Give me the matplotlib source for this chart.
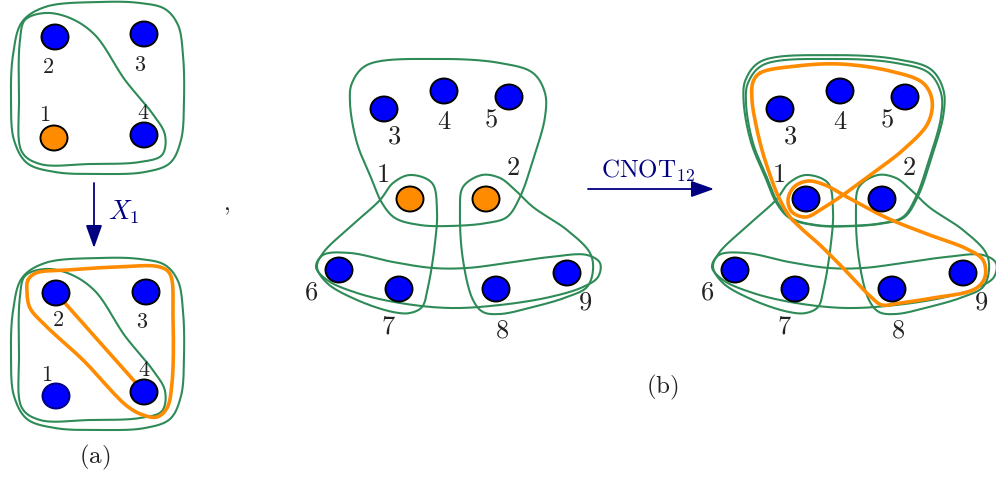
import numpy as np
import matplotlib
matplotlib.use("Agg")
import matplotlib.pyplot as plt
from matplotlib.patches import Ellipse

plt.rcParams['mathtext.fontset'] = 'cm'

GREEN = '#2e8b57'
ORANGE = '#ff8c00'
BLUE = '#0000ff'
NAVY = '#000080'

# ---------------- panel (a): four-qubit code, before and after X_1 -------------
a_ids = ['1', '2', '3', '4']
a_top_xy = [(54, 138), (55, 37), (144, 34), (144, 135)]
a_top_fill = [ORANGE, BLUE, BLUE, BLUE]
a_top_lbl = [(45, 115), (48, 67), (140, 65), (143, 113)]

a_bot_xy = [(56, 396), (56, 293), (146, 292), (144, 392)]
a_bot_fill = [BLUE, BLUE, BLUE, BLUE]
a_bot_edge = [NAVY, 'black', 'black', 'black']
a_bot_lbl = [(47, 375), (58, 320), (142, 322), (144, 370)]

# hyperedges of panel (a) (closed outlines, top copy; lower copy is shifted)
a_outer = [(100, 2), (140, 3), (165, 9), (178, 25), (183, 55), (184, 100),
           (181, 140), (170, 163), (145, 172), (100, 174), (55, 172),
           (27, 163), (14, 140), (11, 100), (13, 55), (22, 22), (45, 7)]
a_inner = [(20, 40), (25, 20), (45, 13), (70, 18), (95, 35), (125, 80),
           (152, 113), (165, 135), (162, 155), (140, 162), (90, 164),
           (40, 164), (22, 152), (19, 100)]
a_shift = 256

# logical operator after X_1
a_logical = [(28, 280), (36, 273), (67, 270), (117, 267), (160, 267), (170, 274),
             (173, 317), (172, 383), (167, 408), (157, 417), (143, 415),
             (127, 406), (83, 360), (47, 327), (30, 308), (27, 292)]
a_logical_edge = ('2', '4')

# ---------------- panel (b): nine-qubit hypergraph, before and after CNOT_12 ------
b_ids = ['1', '2', '3', '4', '5', '6', '7', '8', '9']
b_xy = [(410, 199), (486, 199), (384, 109), (444, 91), (509, 97),
        (339, 270), (399, 289), (496, 289), (567, 273)]
b_fill_before = [ORANGE, ORANGE] + [BLUE] * 7
b_fill_after = [BLUE] * 9
b_lbl = [(383, 175), (513, 168), (394, 137), (444, 122), (491, 119),
         (311, 292), (388, 327), (502, 330), (585, 303)]
b_shift = 396

bell = [(440, 59), (500, 63), (533, 73), (545, 93), (545, 117), (533, 160),
        (520, 197), (507, 217), (487, 223), (450, 226), (420, 225), (395, 218),
        (382, 203), (372, 180), (357, 143), (350, 103), (352, 83), (367, 65)]
edge_167 = [(410, 175), (432, 183), (437, 210), (435, 243), (428, 287),
            (422, 307), (410, 313), (393, 312), (357, 300), (327, 283),
            (317, 267), (323, 253), (350, 227), (380, 200), (393, 183)]
edge_289 = [(482, 175), (500, 178), (513, 188), (533, 207), (567, 230),
            (590, 253), (593, 270), (587, 287), (567, 297), (533, 307),
            (500, 314), (483, 312), (473, 300), (463, 260), (460, 213),
            (463, 187)]
edge_6789 = [(316, 267), (323, 255), (350, 253), (393, 262), (433, 268),
             (467, 268), (507, 263), (550, 257), (587, 255), (600, 263),
             (598, 277), (583, 287), (550, 297), (500, 305), (450, 308),
             (400, 303), (357, 293), (327, 280)]

# logical operator after CNOT_12 (absolute positions in the right copy)
b_logical = [(760, 73), (797, 66), (840, 64), (890, 71), (923, 83), (932, 100),
             (928, 123), (903, 150), (873, 173), (843, 195), (823, 208),
             (806, 217), (792, 212), (788, 200), (794, 187), (808, 181),
             (825, 185), (847, 197), (887, 218), (927, 234), (967, 249),
             (983, 260), (985, 277), (975, 289), (933, 298), (900, 303),
             (882, 305), (872, 298), (847, 272), (820, 245), (803, 230),
             (790, 217), (779, 198), (770, 175), (762, 150), (756, 125),
             (752, 100), (753, 82)]


def closed_spline(pts, n=24, alpha=0.5):
    """Centripetal Catmull-Rom spline through a closed list of points."""
    P = np.asarray(pts, float)
    m = len(P)
    out = []
    for i in range(m):
        p0, p1, p2, p3 = P[(i - 1) % m], P[i], P[(i + 1) % m], P[(i + 2) % m]
        t0 = 0.0
        t1 = t0 + np.linalg.norm(p1 - p0) ** alpha
        t2 = t1 + np.linalg.norm(p2 - p1) ** alpha
        t3 = t2 + np.linalg.norm(p3 - p2) ** alpha
        t = np.linspace(t1, t2, n, endpoint=False)[:, None]
        A1 = (t1 - t) / (t1 - t0) * p0 + (t - t0) / (t1 - t0) * p1
        A2 = (t2 - t) / (t2 - t1) * p1 + (t - t1) / (t2 - t1) * p2
        A3 = (t3 - t) / (t3 - t2) * p2 + (t - t2) / (t3 - t2) * p3
        B1 = (t2 - t) / (t2 - t0) * A1 + (t - t0) / (t2 - t0) * A2
        B2 = (t3 - t) / (t3 - t1) * A2 + (t - t1) / (t3 - t1) * A3
        C = (t2 - t) / (t2 - t1) * B1 + (t - t1) / (t2 - t1) * B2
        out.append(C)
    out = np.vstack(out)
    return np.vstack([out, out[:1]])


def draw_loop(ax, pts, dx=0, dy=0, color=GREEN, lw=1.5, z=2):
    c = closed_spline(pts)
    ax.plot(c[:, 0] + dx, c[:, 1] + dy, color=color, lw=lw, zorder=z,
            solid_capstyle='round', solid_joinstyle='round')


def draw_nodes(ax, xy, fills, edges=None, w=27, h=25):
    for k, (x, y) in enumerate(xy):
        ec = 'black' if edges is None else edges[k]
        ax.add_patch(Ellipse((x, y), w, h, facecolor=fills[k], edgecolor=ec,
                             lw=1.4, zorder=5))


def draw_labels(ax, ids, pos, size, dx=0):
    for s, (x, y) in zip(ids, pos):
        ax.text(x + dx, y, f'${s}$', fontsize=size, ha='center', va='center',
                color='#222222', zorder=6)


def scaled(pts, cx, cy, f):
    return [(cx + (x - cx) * f, cy + (y - cy) * f) for x, y in pts]


fig = plt.figure(figsize=(9.96, 4.78), dpi=100)
ax = fig.add_axes([0, 0, 1, 1])
ax.set_xlim(0, 996)
ax.set_ylim(478, 0)
ax.set_aspect('equal')
ax.axis('off')

# panel (a), top
draw_loop(ax, a_outer)
draw_loop(ax, a_inner)
draw_nodes(ax, a_top_xy, a_top_fill)
draw_labels(ax, a_ids, a_top_lbl, 16)

# panel (a), bottom
draw_loop(ax, a_outer, dy=a_shift)
draw_loop(ax, a_inner, dy=a_shift)
draw_loop(ax, a_logical, color=ORANGE, lw=2.6, z=3)
i2, i4 = a_ids.index(a_logical_edge[0]), a_ids.index(a_logical_edge[1])
ax.plot([a_bot_xy[i2][0], a_bot_xy[i4][0]], [a_bot_xy[i2][1], a_bot_xy[i4][1]],
        color=ORANGE, lw=2.6, zorder=3, solid_capstyle='round')
draw_nodes(ax, a_bot_xy, a_bot_fill, a_bot_edge)
draw_labels(ax, a_ids, a_bot_lbl, 16)

ax.annotate('', xy=(94, 248), xytext=(94, 183),
            arrowprops=dict(arrowstyle='-|>,head_length=0.7,head_width=0.25',
                            color=NAVY, lw=1.3, mutation_scale=20,
                            shrinkA=0, shrinkB=0))
ax.text(124, 212, r'$X_1$', fontsize=19, color=NAVY, ha='center', va='center')
ax.text(95, 457, r'$(\mathrm{a})$', fontsize=18, color='#222222',
        ha='center', va='center')
ax.text(226, 205, r'$,$', fontsize=17, color='#222222', ha='center', va='center')

# panel (b), before
for loop in (bell, edge_167, edge_289, edge_6789):
    draw_loop(ax, loop)
draw_nodes(ax, b_xy, b_fill_before)
draw_labels(ax, b_ids, b_lbl, 19)

ax.annotate('', xy=(714, 189), xytext=(588, 189),
            arrowprops=dict(arrowstyle='-|>,head_length=0.7,head_width=0.25',
                            color=NAVY, lw=1.3, mutation_scale=20,
                            shrinkA=0, shrinkB=0))
ax.text(648, 171, r'$\mathrm{CNOT}_{12}$', fontsize=18, color=NAVY,
        ha='center', va='center')

# panel (b), after
for loop in (bell, edge_167, edge_289, edge_6789):
    draw_loop(ax, loop, dx=b_shift)
draw_loop(ax, scaled(bell, 448, 212, 1.025), dx=b_shift)
draw_loop(ax, b_logical, color=ORANGE, lw=2.6, z=3)
draw_nodes(ax, [(x + b_shift, y) for x, y in b_xy], b_fill_after)
draw_labels(ax, b_ids, b_lbl, 19, dx=b_shift)

ax.text(662, 387, r'$(\mathrm{b})$', fontsize=18, color='#222222',
        ha='center', va='center')

fig.savefig('out.png', dpi=100)
